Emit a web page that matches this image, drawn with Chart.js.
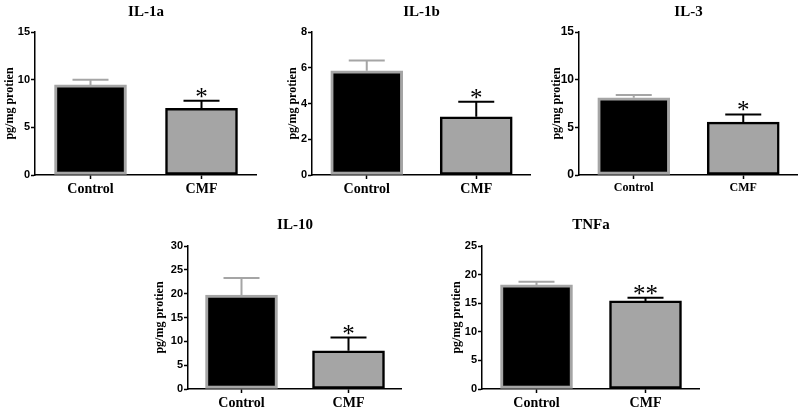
<!DOCTYPE html>
<html>
<head>
<meta charset="utf-8">
<script src="https://cdn.jsdelivr.net/npm/chart.js@4"></script>
<style>
html, body { margin: 0; padding: 0; background: #fff; }
body { width: 800px; height: 410px; position: relative; overflow: hidden; }
.panel { position: absolute; }
</style>
</head>
<body>
<div class="panel" style="left:0px;top:0px;width:257px;height:200px"><canvas id="c1"></canvas></div>
<div class="panel" style="left:277px;top:0px;width:254px;height:200px"><canvas id="c2"></canvas></div>
<div class="panel" style="left:544px;top:0px;width:254px;height:200px"><canvas id="c3"></canvas></div>
<div class="panel" style="left:153px;top:214px;width:249px;height:200px"><canvas id="c4"></canvas></div>
<div class="panel" style="left:447px;top:214px;width:253px;height:200px"><canvas id="c5"></canvas></div>
<script>
const categories = ['Control', 'CMF'];

const il1aMean = [9.45, 7.0];
const il1aSem = [0.55, 0.8];
const il1aTicks = [0, 5, 10, 15];
const il1aSig = ['', '*'];

const il1bMean = [5.83, 3.26];
const il1bSem = [0.57, 0.84];
const il1bTicks = [0, 2, 4, 6, 8];
const il1bSig = ['', '*'];

const il3Mean = [8.1, 5.55];
const il3Sem = [0.3, 0.8];
const il3Ticks = [0, 5, 10, 15];
const il3Sig = ['', '*'];

const il10Mean = [19.7, 8.0];
const il10Sem = [3.6, 2.8];
const il10Ticks = [0, 5, 10, 15, 20, 25, 30];
const il10Sig = ['', '*'];

const tnfMean = [18.2, 15.4];
const tnfSem = [0.55, 0.55];
const tnfTicks = [0, 5, 10, 15, 20, 25];
const tnfSig = ['', '**'];

const GRAY = '#a5a5a5';

// one-sided error bars + significance stars
const errorBars = {
    id: 'errorBars',
    afterDatasetsDraw(chart) {
        const ctx = chart.ctx;
        const y = chart.scales.y;
        const ds = chart.data.datasets[0];
        chart.getDatasetMeta(0).data.forEach((bar, i) => {
            const top = y.getPixelForValue(ds.data[i] + ds.errors[i]);
            const half = bar.width / 4;
            ctx.save();
            ctx.strokeStyle = i === 0 ? GRAY : '#000';
            ctx.lineWidth = 2;
            ctx.beginPath();
            ctx.moveTo(bar.x, bar.y);
            ctx.lineTo(bar.x, top);
            ctx.moveTo(bar.x - half, top);
            ctx.lineTo(bar.x + half, top);
            ctx.stroke();
            if (ds.sig[i]) {
                ctx.fillStyle = '#000';
                ctx.font = '25px "Liberation Serif"';
                ctx.textAlign = 'center';
                ctx.textBaseline = 'alphabetic';
                ctx.fillText(ds.sig[i], bar.x, top + 4);
            }
            ctx.restore();
        });
    }
};

function makePanel(id, title, mean, sem, ticks, sig, o) {
    const ctx = document.getElementById(id).getContext('2d');
    return new Chart(ctx, {
        type: 'bar',
        data: {
            labels: categories,
            datasets: [{
                data: mean,
                errors: sem,
                sig: sig,
                backgroundColor: ['#000', GRAY],
                borderColor: [GRAY, '#000'],
                borderWidth: [3, 2.5],
                borderSkipped: false,
                barThickness: 72
            }]
        },
        options: {
            responsive: true,
            maintainAspectRatio: false,
            animation: false,
            layout: { padding: 0 },
            plugins: {
                legend: { display: false },
                tooltip: { enabled: false },
                title: {
                    display: true,
                    text: title,
                    fullSize: false,
                    color: '#000',
                    font: { family: 'Liberation Serif', size: 15, weight: 'bold' },
                    padding: { top: o.titleTop, bottom: 14 - o.titleTop }
                }
            },
            scales: {
                x: {
                    afterFit: s => { s.height = 25; },
                    border: { display: true, color: '#000', width: 1.5 },
                    grid: { display: true, offset: false, drawOnChartArea: false, drawTicks: true, tickLength: 4, tickWidth: 1.5, tickColor: '#000' },
                    ticks: { color: '#000', padding: 2, font: { family: 'Liberation Serif', size: o.catSize, weight: 'bold' } }
                },
                y: {
                    min: ticks[0],
                    max: ticks[ticks.length - 1],
                    afterFit: s => { s.width = 35; },
                    afterBuildTicks: s => { s.ticks = ticks.map(v => ({ value: v })); },
                    border: { display: true, color: '#000', width: 1.5 },
                    grid: { display: true, drawOnChartArea: false, drawTicks: true, tickLength: 4, tickWidth: 1.5, tickColor: '#000' },
                    ticks: { color: '#000', padding: 1, font: { family: 'Liberation Sans', size: o.numSize, weight: 'bold' } },
                    title: {
                        display: true,
                        text: 'pg/mg protien',
                        color: '#000',
                        padding: { top: o.yTitlePad, bottom: 0 },
                        font: { family: 'Liberation Serif', size: 12, weight: 'bold' }
                    }
                }
            }
        },
        plugins: [errorBars]
    });
}

makePanel('c1', 'IL-1a', il1aMean, il1aSem, il1aTicks, il1aSig, { titleTop: 3, catSize: 14, numSize: 11, yTitlePad: 3 });
makePanel('c2', 'IL-1b', il1bMean, il1bSem, il1bTicks, il1bSig, { titleTop: 3, catSize: 14, numSize: 11, yTitlePad: 9 });
makePanel('c3', 'IL-3', il3Mean, il3Sem, il3Ticks, il3Sig, { titleTop: 3, catSize: 12, numSize: 12, yTitlePad: 6 });
makePanel('c4', 'IL-10', il10Mean, il10Sem, il10Ticks, il10Sig, { titleTop: 2, catSize: 14, numSize: 11, yTitlePad: 0 });
makePanel('c5', 'TNFa', tnfMean, tnfSem, tnfTicks, tnfSig, { titleTop: 2, catSize: 14, numSize: 11, yTitlePad: 3 });
</script>
</body>
</html>
